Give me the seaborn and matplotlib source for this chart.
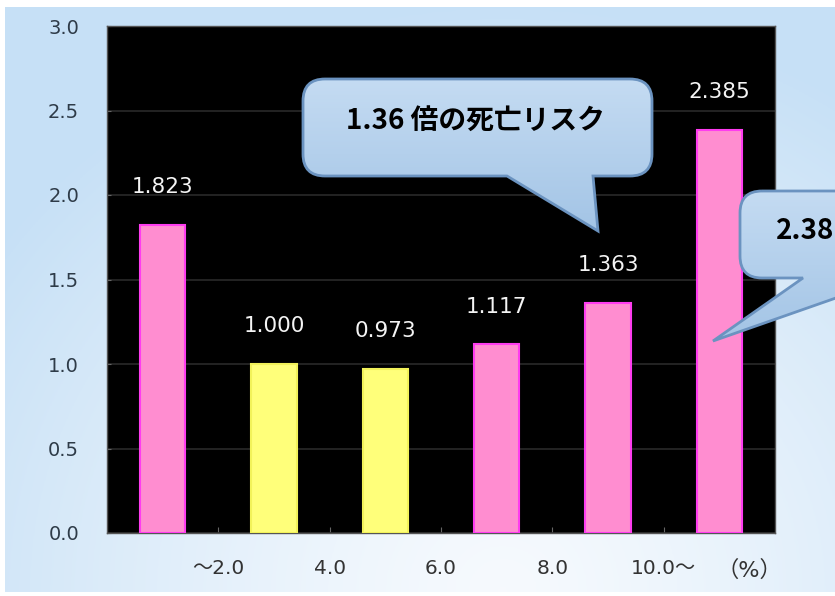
import matplotlib
matplotlib.use("Agg")
import matplotlib.pyplot as plt
import numpy as np
import pandas as pd
import seaborn as sns
from matplotlib.path import Path
from matplotlib.patches import PathPatch

# data
groups = ["～2.0", "2.0～4.0", "4.0～6.0", "6.0～8.0", "8.0～10.0", "10.0～"]
risk = [1.823, 1.000, 0.973, 1.117, 1.363, 2.385]
bar_colors = ["#ff8dd0", "#ffff7a", "#ffff7a", "#ff8dd0", "#ff8dd0", "#ff8dd0"]
edge_colors = ["#ff3cf0", "#f2f25a", "#f2f25a", "#ff3cf0", "#ff3cf0", "#ff3cf0"]
boundary_labels = ["～2.0", "4.0", "6.0", "8.0", "10.0～"]
unit_label = "（%）"
callout_texts = ["1.36 倍の死亡リスク", "2.38"]

sns.set_style("ticks")
plt.rcParams["font.family"] = ["DejaVu Sans", "Noto Sans CJK JP"]

W, H = 835, 596
fig = plt.figure(figsize=(W / 100, H / 100), dpi=100)
fig.patch.set_facecolor("white")

# light blue gradient panel behind everything
bg = fig.add_axes([5 / W, 4 / H, 830 / W, 585 / H], zorder=0)
gx, gy = np.meshgrid(np.linspace(0, 1, 300), np.linspace(0, 1, 220))
t = np.clip(np.sqrt(((gx - 0.6) / 0.75) ** 2 + ((gy - 1.0) / 1.0) ** 2), 0, 1) ** 1.3
light = np.array([0.965, 0.98, 0.995])
blue = np.array([0.78, 0.88, 0.965])
img = light[None, None, :] * (1 - t[..., None]) + blue[None, None, :] * t[..., None]
bg.imshow(img, aspect="auto", extent=[0, 1, 1, 0])
bg.set_axis_off()

# main chart
ax = fig.add_axes([107 / W, (H - 533) / H, (775 - 107) / W, (533 - 26) / H], zorder=1)
ax.set_facecolor("black")
df = pd.DataFrame({"group": groups, "risk": risk})
sns.barplot(data=df, x="group", y="risk", hue="group", order=groups,
            palette=bar_colors, saturation=1, legend=False, width=0.41, ax=ax, zorder=3)
for patch, ec in zip(ax.patches, edge_colors):
    patch.set_edgecolor(ec)
    patch.set_linewidth(1.5)

ax.set_xlim(-0.5, len(groups) - 0.5)
ax.set_ylim(0, 3.0)
ax.set_yticks(np.arange(0, 3.01, 0.5))
ax.set_yticklabels([f"{v:.1f}" for v in np.arange(0, 3.01, 0.5)])
ax.yaxis.grid(True, color="#2a2a2a", linewidth=1.2, zorder=0)
ax.set_axisbelow(True)

ticks = list(np.arange(len(boundary_labels)) + 0.5) + [5.27]
ax.set_xticks(ticks)
ax.set_xticklabels(boundary_labels + [unit_label])
ax.tick_params(axis="x", direction="in", length=4, color="#666666",
               pad=19, labelsize=14.5, labelcolor="#333333")
ax.tick_params(axis="y", direction="in", length=3, color="#666666",
               pad=20, labelsize=14, labelcolor="#2e3b48")
ax.xaxis.get_major_ticks()[-1].tick1line.set_visible(False)
ax.get_xticklabels()[-1].set_fontsize(16)
ax.set_xlabel("")
ax.set_ylabel("")
for s in ax.spines.values():
    s.set_color("#555555")
    s.set_linewidth(1)

for i, v in enumerate(risk):
    ax.annotate(f"{v:.3f}", (i, v), xytext=(0, 27), textcoords="offset points",
                ha="center", va="center", color="#f4f4f4", fontsize=15.5, zorder=5)

# speech bubbles drawn in pixel coordinates on an overlay
ov = fig.add_axes([0, 0, 1, 1], zorder=2)
ov.set_xlim(0, W)
ov.set_ylim(H, 0)
ov.set_axis_off()
ov.patch.set_alpha(0)


def bubble(x0, y0, x1, y1, r, base_a, base_b, tip):
    verts = [
        (x0 + r, y0), (x1 - r, y0), (x1, y0), (x1, y0 + r),
        (x1, y1 - r), (x1, y1), (x1 - r, y1),
        (base_b, y1), tip, (base_a, y1),
        (x0 + r, y1), (x0, y1), (x0, y1 - r),
        (x0, y0 + r), (x0, y0), (x0 + r, y0), (x0 + r, y0),
    ]
    codes = [
        Path.MOVETO, Path.LINETO, Path.CURVE3, Path.CURVE3,
        Path.LINETO, Path.CURVE3, Path.CURVE3,
        Path.LINETO, Path.LINETO, Path.LINETO,
        Path.LINETO, Path.CURVE3, Path.CURVE3,
        Path.LINETO, Path.CURVE3, Path.CURVE3, Path.CLOSEPOLY,
    ]
    path = Path(verts, codes)
    ymax = max(y1, tip[1])
    grad = np.linspace(0, 1, 100)[:, None, None]
    top_c = np.array([0.77, 0.86, 0.95])
    bot_c = np.array([0.64, 0.77, 0.9])
    fill = top_c * (1 - grad) + bot_c * grad
    fill = np.repeat(fill, 2, axis=1)
    patch = PathPatch(path, facecolor="none", edgecolor="#6b93c0", linewidth=2, zorder=4)
    ov.add_patch(patch)
    im = ov.imshow(fill, extent=[min(x0, tip[0]), x1, ymax, y0], aspect="auto", zorder=3)
    im.set_clip_path(patch)


bubble(303, 79, 652, 176, 22, 507, 593, (598, 231))
bubble(740, 191, 1000, 278, 22, 803, 893, (713, 341))
ov.set_xlim(0, W)
ov.set_ylim(H, 0)

ov.text(475, 121, callout_texts[0], ha="center", va="center", fontsize=20,
        fontweight="bold", family=["Noto Sans CJK JP"], color="black", zorder=5)
ov.text(776, 231, callout_texts[1], ha="left", va="center", fontsize=20,
        fontweight="bold", family=["Noto Sans CJK JP"], color="black", zorder=5)

fig.savefig("out.png", dpi=100)
